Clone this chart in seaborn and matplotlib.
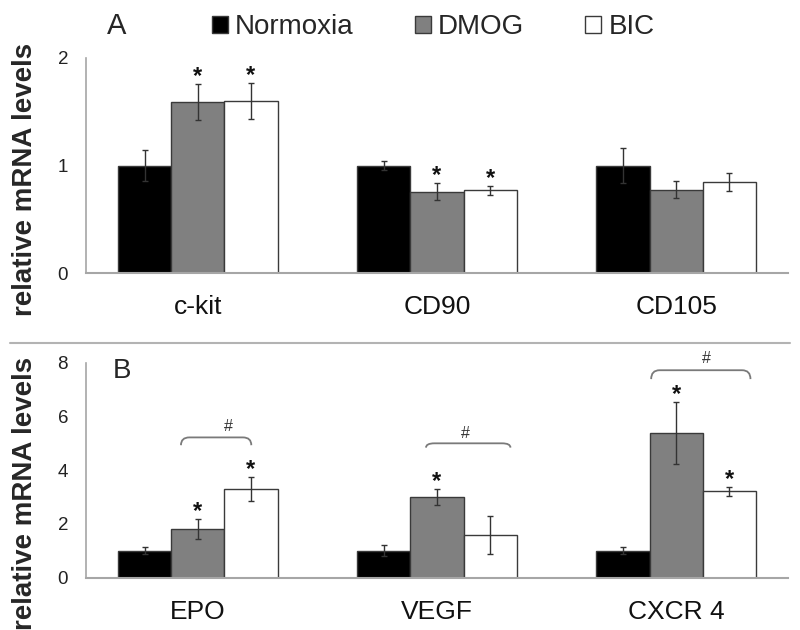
import numpy as np
import pandas as pd
import matplotlib.pyplot as plt
import seaborn as sns
from matplotlib.path import Path
from matplotlib.patches import PathPatch
from matplotlib.lines import Line2D

# --- data ---
conditions = ['Normoxia', 'DMOG', 'BIC']
bar_colors = ['black', '#808080', 'white']

genes_a = ['c-kit', 'CD90', 'CD105']
a_normoxia = [1.0, 1.0, 1.0]
a_normoxia_err = [0.14, 0.045, 0.163]
a_dmog = [1.59, 0.756, 0.775]
a_dmog_err = [0.17, 0.08, 0.08]
a_bic = [1.60, 0.77, 0.847]
a_bic_err = [0.17, 0.043, 0.087]
stars_a = [(0, 1), (0, 2), (1, 1), (1, 2)]  # (gene, condition)

genes_b = ['EPO', 'VEGF', 'CXCR 4']
b_normoxia = [1.0, 1.0, 1.0]
b_normoxia_err = [0.13, 0.2, 0.13]
b_dmog = [1.81, 3.0, 5.39]
b_dmog_err = [0.37, 0.3, 1.15]
b_bic = [3.30, 1.6, 3.21]
b_bic_err = [0.44, 0.7, 0.16]
stars_b = [(0, 1), (0, 2), (1, 1), (2, 1), (2, 2)]

# "#" brackets in panel B (category units / data units)
bracket_x0 = [-0.07, 0.954, 1.895]
bracket_x1 = [0.224, 1.307, 2.31]
bracket_top = [5.22, 5.0, 7.72]
bracket_tip = [4.93, 4.84, 7.39]
hash_x = [0.13, 1.12, 2.126]
hash_y = [5.62, 5.37, 8.14]


def long_frame(genes, means, errs):
    rows = []
    for cond, m, e in zip(conditions, means, errs):
        for g, v, s in zip(genes, m, e):
            rows.append({'gene': g, 'condition': cond, 'value': v, 'err': s})
    return pd.DataFrame(rows)


df_a = long_frame(genes_a, [a_normoxia, a_dmog, a_bic],
                  [a_normoxia_err, a_dmog_err, a_bic_err])
df_b = long_frame(genes_b, [b_normoxia, b_dmog, b_bic],
                  [b_normoxia_err, b_dmog_err, b_bic_err])

sns.set_style('white')
plt.rcParams['font.family'] = ['Liberation Sans', 'DejaVu Sans']

fig = plt.figure(figsize=(8, 6.3), dpi=100)
ax_a = fig.add_axes([86 / 800, 1 - 273 / 630, 702 / 800, 215 / 630])
ax_b = fig.add_axes([86 / 800, 1 - 577.7 / 630, 702 / 800, 215 / 630])


def draw_panel(ax, df, genes, ymax, yticks, stars, show_legend):
    sns.barplot(data=df, x='gene', y='value', hue='condition',
                order=genes, hue_order=conditions, palette=bar_colors,
                saturation=1, width=0.667, errorbar=None,
                edgecolor='#3a3a3a', linewidth=1, ax=ax, legend=show_legend)
    bars = list(ax.containers[:3])
    centers = {}
    for i, cond in enumerate(conditions):
        sub = df[df['condition'] == cond].set_index('gene').loc[genes]
        xs = [p.get_x() + p.get_width() / 2 for p in bars[i]]
        ax.errorbar(xs, sub['value'], yerr=sub['err'], fmt='none',
                    ecolor='#333333', elinewidth=1, capsize=2, capthick=1,
                    zorder=4)
        for j, g in enumerate(genes):
            centers[(j, i)] = (xs[j], sub['value'].iloc[j] + sub['err'].iloc[j])
    for key in stars:
        x, y = centers[key]
        ax.annotate('*', (x, y), xytext=(0, 0.5), textcoords='offset points',
                    ha='center', va='baseline', fontsize=17,
                    fontweight='bold', color='#111111')

    ax.set_ylim(0, ymax)
    ax.set_yticks(yticks)
    ax.set_xlabel('')
    ax.set_ylabel('relative mRNA levels', fontsize=20, fontweight='bold')
    ax.tick_params(axis='y', length=4.3, width=1, color='#a6a6a6', pad=8.6,
                   labelsize=13.5, labelcolor='#222222')
    ax.tick_params(axis='x', length=0, pad=15.8, labelsize=19,
                   labelcolor='#111111')
    sns.despine(ax=ax)
    ax.spines['left'].set_color('#a6a6a6')
    ax.spines['left'].set_linewidth(1.2)
    ax.spines['bottom'].set_color('#a6a6a6')
    ax.spines['bottom'].set_linewidth(1.5)


draw_panel(ax_a, df_a, genes_a, 2, [0, 1, 2], stars_a, True)
draw_panel(ax_b, df_b, genes_b, 8, [0, 2, 4, 6, 8], stars_b, False)

ax_a.yaxis.set_label_coords(-0.069, 0.437)
ax_b.yaxis.set_label_coords(-0.069, 0.394)

sns.move_legend(ax_a, 'center left', bbox_to_anchor=(212 / 800, 1 - 27 / 630),
                bbox_transform=fig.transFigure, ncol=3, title=None,
                frameon=False, fontsize=20, handlelength=0.58,
                handleheight=0.58, handletextpad=0.25, columnspacing=2.2,
                borderpad=0, borderaxespad=0)

# brackets with "#"
r = 0.035
for x0, x1, yt, yb, hx, hy in zip(bracket_x0, bracket_x1, bracket_top,
                                  bracket_tip, hash_x, hash_y):
    verts = [(x0, yb), (x0, yt), (x0 + r, yt), (x1 - r, yt),
             (x1, yt), (x1, yb)]
    codes = [Path.MOVETO, Path.CURVE3, Path.CURVE3, Path.LINETO,
             Path.CURVE3, Path.CURVE3]
    ax_b.add_patch(PathPatch(Path(verts, codes), facecolor='none',
                             edgecolor='#7a7a7a', lw=1.3, clip_on=False))
    ax_b.text(hx, hy, '#', ha='center', va='center', fontsize=11.5,
              color='#333333', clip_on=False)

# panel letters
ax_a.text(0.044, 1.151, 'A', transform=ax_a.transAxes, ha='center',
          va='center', fontsize=21)
ax_b.text(0.051, 0.961, 'B', transform=ax_b.transAxes, ha='center',
          va='center', fontsize=20)

# divider between the panels
fig.add_artist(Line2D([10 / 800, 790 / 800], [1 - 342.7 / 630] * 2,
                      color='#b3b3b3', lw=1.5, transform=fig.transFigure))

fig.savefig('out.png', dpi=100)
